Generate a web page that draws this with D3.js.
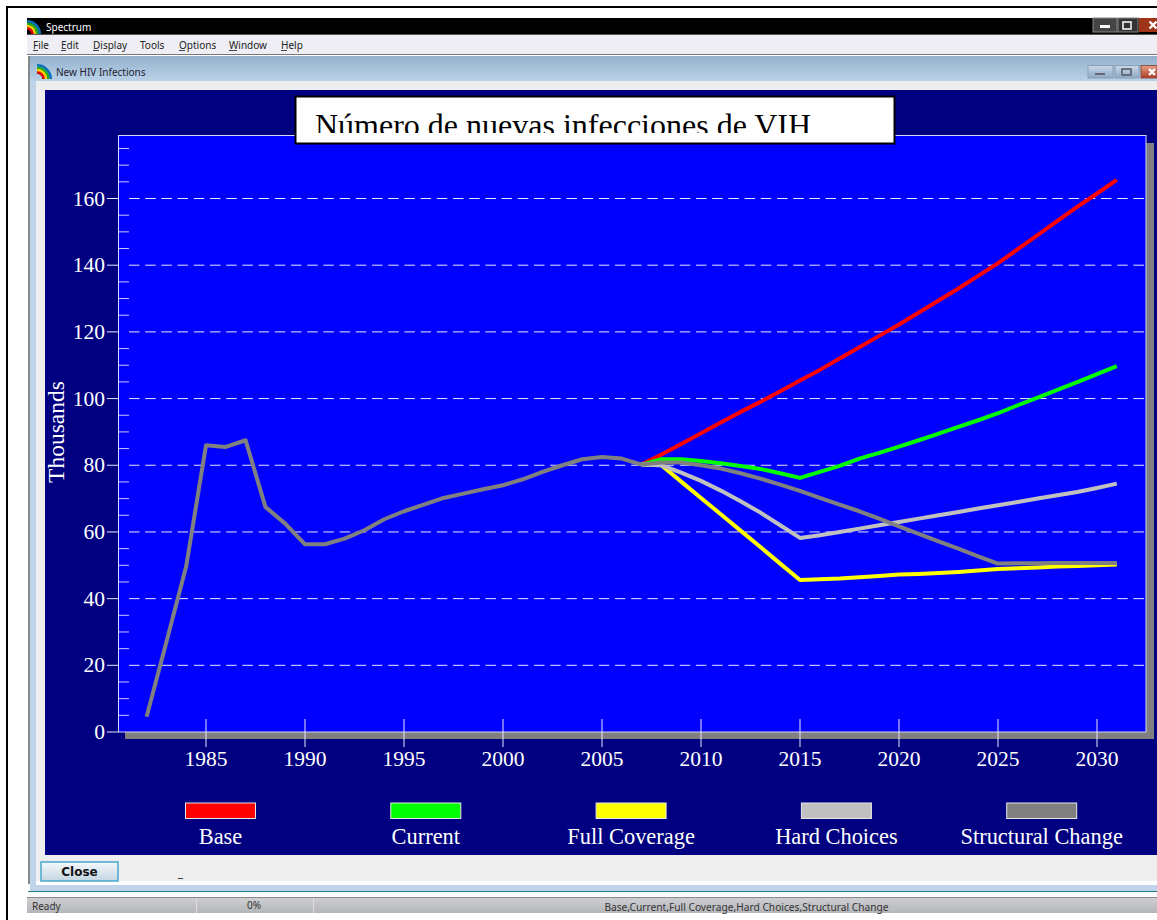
<!DOCTYPE html>
<html><head><meta charset="utf-8">
<script src="https://cdn.jsdelivr.net/npm/d3@7"></script>
<style>html,body{margin:0;padding:0;background:#fff;overflow:hidden}svg{display:block}</style>
</head><body><svg id="c" width="1157" height="920"></svg>
<script>
const historyYears = d3.range(1982, 2008);
const history = [4.6,27,49.7,86,85.5,87.5,67.5,62.5,56.3,56.3,58,60.5,63.8,66.2,68.2,70.2,71.5,72.8,74,75.8,78,80,81.8,82.5,82,80.2];
const projYears = d3.range(2007, 2032);
const base = [80.2,83.2,86.4,89.6,92.8,96,99,102.2,105.4,108.6,112,115.4,118.8,122.2,125.8,129.4,133,136.8,140.6,144.8,149,153.3,157.5,161.5,165.6];
const current = [80.2,81.8,81.8,81.3,80.6,79.8,78.9,77.6,76.2,78,79.8,82,83.7,85.6,87.5,89.5,91.5,93.5,95.6,98,100.3,102.6,104.9,107.3,109.7];
const fullCoverage = [80.2,80,75.1,70.2,65.3,60.4,55.5,50.5,45.6,45.8,46,46.4,46.8,47.2,47.4,47.7,48,48.4,48.9,49.1,49.3,49.6,49.8,50,50.2];
const hardChoices = [80.2,80,77.8,75.3,72.4,69.2,65.8,62,58.2,59,60,61,62,63,64,65,66,67,68,69,70,71,72,73.2,74.5];
const structural = [80.2,80.8,80.8,80,79,77.6,76,74.2,72.3,70.2,68.2,66.2,64,61.7,59.4,57.2,55,52.7,50.5,50.6,50.6,50.7,50.7,50.7,50.7];
const seriesNames = ["Base","Current","Full Coverage","Hard Choices","Structural Change"];
const seriesColors = ["#ff0000","#00ff00","#ffff00","#c0c0c0","#808080"];
const yMajor = [0,20,40,60,80,100,120,140,160];
const yMinor = d3.range(5,180,5).filter(v=>v%20!==0);
const xTicks = d3.range(1985,2031,5);
const menuItems = [["File",33,5],["Edit",61,5],["Display",93,6],["Tools",140,0],["Options",179,6],["Window",229,8],["Help",281,6]];

const svg = d3.select("#c");
const R=(x,y,w,h,f,s,sw)=>svg.append("rect").attr("x",x).attr("y",y).attr("width",w).attr("height",h).attr("fill",f).attr("stroke",s||"none").attr("stroke-width",sw||0);
const T=(x,y,t,size,fill,font,anchor)=>svg.append("text").attr("x",x).attr("y",y).text(t).attr("font-size",size).attr("fill",fill).attr("font-family",font||"'Noto Sans',sans-serif").attr("text-anchor",anchor||"start");
const defs = svg.append("defs");
const grad=(id,c1,c2)=>{const g=defs.append("linearGradient").attr("id",id).attr("x1",0).attr("x2",0).attr("y1",0).attr("y2",1);g.append("stop").attr("offset",0).attr("stop-color",c1);g.append("stop").attr("offset",1).attr("stop-color",c2);};
grad("mdi","#93b1cc","#bad2e8"); grad("status","#cfd0d4","#b4b6ba"); grad("btn","#f4f8fb","#c3d6e2"); grad("sm","#c9d9e8","#8fa9c4"); grad("red","#e8a08c","#b03a20");

// page frame
R(6,6,1151,2,"#000");
R(6,6,2,914,"#000");
// app window
R(27,18,1130,17,"#000");
T(46,31,"Spectrum",10,"#fff");
R(27,35,1130,19,"#eeeef4");
R(27,34,1130,1,"#555");
menuItems.forEach(([m,px,u])=>{T(px,49,m,10,"#222"); if(u)R(px,50,u,1,"#444");});
R(27,54,1130,1,"#777");
// child window
R(28,56,1129,25,"url(#mdi)");
T(56,76,"New HIV Infections",10,"#223");
R(36,81,1121,800,"#eeeeee");
R(28,56,2,828,"#888");
R(30,81,6,804,"#bfd4ea");
R(30,885,1127,6,"#bfd4ea");
R(28,891,1129,1,"#1e7f8c");
R(28,892,1129,4,"#fafafa");
// icons
[[27,34,14],[37,79,15]].forEach(([ix,iy,r])=>["#0a6fc0","#2a2","#fc0","#d00"].forEach((c,i)=>svg.append("path").attr("d",d3.arc()({innerRadius:r-2.4*(i+1)-0.2,outerRadius:r-2.4*i,startAngle:0,endAngle:Math.PI/2})).attr("transform",`translate(${ix},${iy})`).attr("fill",c)));
// window buttons
const crossMark=(cx,cy,s)=>svg.append("path").attr("d",`M${cx-s},${cy-s}L${cx+s},${cy+s}M${cx-s},${cy+s}L${cx+s},${cy-s}`).attr("stroke","#fff").attr("stroke-width",2.4).attr("fill","none");
R(1093,18,24,14,"#444","#888",1); R(1100,25,10,3,"#fff");
R(1118,18,20,14,"#333","#888",1); R(1123,22,8,7,"none","#fff",1.5);
R(1139,18,18,14,"#a03418");
crossMark(1153,25,3.5);
[[1088,65.5,25],[1115,65.5,24]].forEach(([bx,by,w])=>R(bx,by,w,12.5,"url(#sm)","#8a9eb6",1));
R(1095,73,10,2,"#667"); R(1122,69,9,6,"none","#556",1.5);
R(1141,65.5,16,12.5,"url(#red)","#8a5040",1);
crossMark(1152,72,3);

// chart panel
R(45,90,1112,765,"#000080");
const x=d3.scaleLinear().domain([1985,2030]).range([206,1097]);
const y=d3.scaleLinear().domain([0,160]).range([732,198.5]);
const plotL=118.5,plotR=1146,plotT=135.5,plotB=732;
R(125,143,1029,596,"#808080");
R(plotL,plotT,plotR-plotL,plotB-plotT,"#0000ff","#d8d8f0",1);
// y axis ticks
yMinor.forEach(v=>svg.append("line").attr("x1",119).attr("x2",129).attr("y1",y(v)).attr("y2",y(v)).attr("stroke","#c8c8ff").attr("stroke-width",1));
yMajor.forEach(v=>{
  svg.append("line").attr("x1",107).attr("x2",118).attr("y1",y(v)).attr("y2",y(v)).attr("stroke","#e8e8ff").attr("stroke-width",1);
  if(v>0)svg.append("line").attr("x1",129).attr("x2",1146).attr("y1",y(v)).attr("y2",y(v)).attr("stroke","#e8e8ff").attr("stroke-width",1).attr("stroke-dasharray","10.5,5.7");
  T(105,y(v)+7,v,21.5,"#fff","'Liberation Serif',serif","end");
});
xTicks.forEach(v=>{
  svg.append("line").attr("x1",x(v)).attr("x2",x(v)).attr("y1",719).attr("y2",747).attr("stroke","#e8e8ff").attr("stroke-width",1);
  T(x(v),766,v,21.5,"#fff","'Liberation Serif',serif","middle");
});
svg.append("text").attr("transform","translate(64,432) rotate(-90)").attr("text-anchor","middle").attr("font-size",23.5).attr("fill","#fff").attr("font-family","'Liberation Serif',serif").text("Thousands");
// lines
const line=d3.line().x(d=>x(d[0])).y(d=>y(d[1]));
const draw=(xs,vs,c)=>svg.append("path").attr("d",line(xs.map((v,i)=>[v,vs[i]]))).attr("fill","none").attr("stroke",c).attr("stroke-width",4).attr("stroke-linejoin","round");
[base,current,fullCoverage,hardChoices,structural].forEach((s,i)=>draw(projYears,s,seriesColors[i]));
draw(historyYears,history,seriesColors[4]);
// legend
seriesNames.forEach((n,i)=>{
  const cx=220.5+i*205.3;
  R(cx-35,803,70,15.5,seriesColors[i],"#e8e8e8",1);
  T(cx,844,n,22.4,"#fff","'Liberation Serif',serif","middle");
});
// title
defs.append("clipPath").attr("id","tc").append("rect").attr("x",296).attr("y",97).attr("width",598).attr("height",36);
R(295.5,96.5,599,47,"#fff","#000",2);
T(315,136,"Número de nuevas infecciones de VIH",32,"#000","'Liberation Serif',serif").attr("clip-path","url(#tc)");
// bottom
R(41,862,77,19,"url(#btn)","#4aa8d0",1.5);
T(79.5,876,"Close",12,"#111","'DejaVu Sans',sans-serif","middle").attr("font-weight","bold");
T(178,877,"_",11,"#000");
R(27,897,1130,16,"url(#status)");
R(27,897,1130,1,"#888");
[196,313].forEach(v=>R(v,898,1,15,"#ddd"));
T(32,910,"Ready",10,"#333");
T(254,909,"0%",10,"#333","'Noto Sans'","middle");
T(746.5,911,"Base,Current,Full Coverage,Hard Choices,Structural Change",10.2,"#333","'Noto Sans'","middle");
</script></body></html>
